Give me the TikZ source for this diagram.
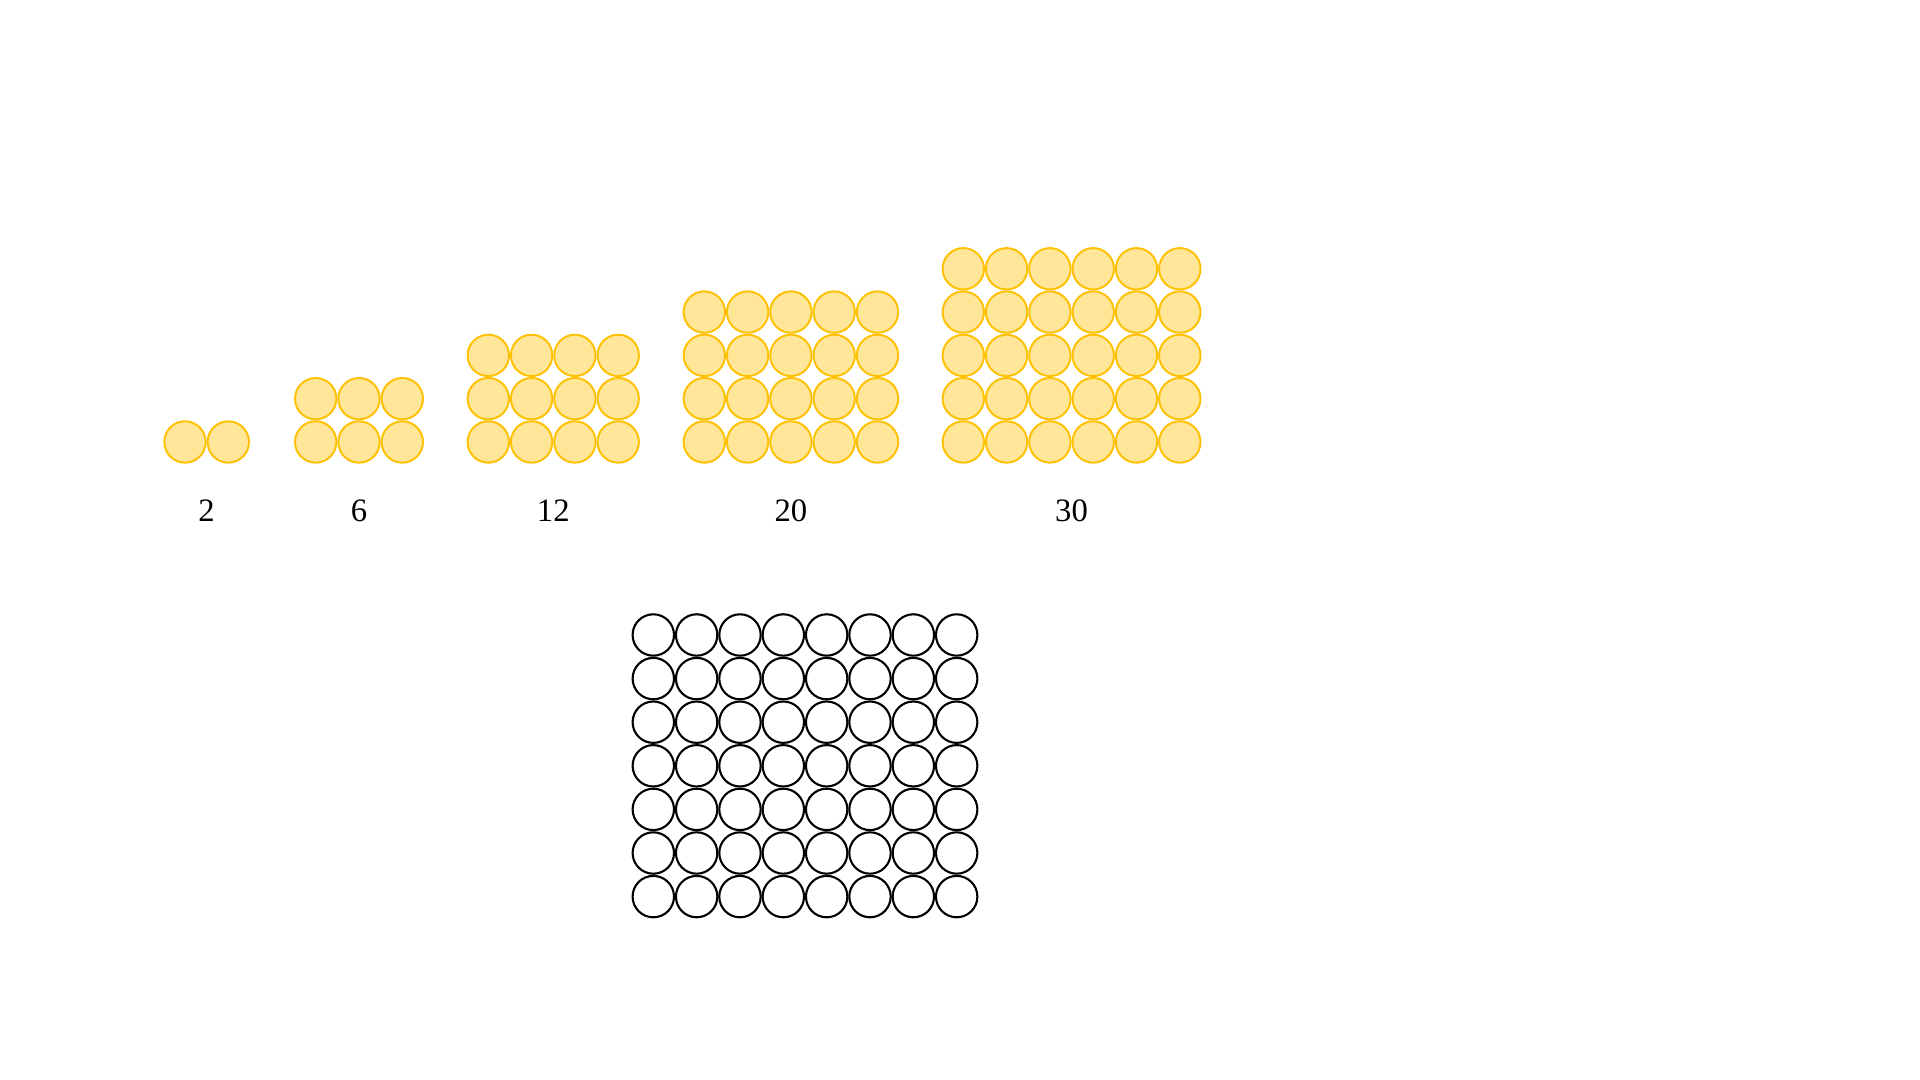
\documentclass[tikz,border=0pt]{standalone}
\usepackage{fontspec}
\setmainfont{Liberation Serif}
\usetikzlibrary{positioning}
\definecolor{coinfill}{HTML}{FFE699}
\definecolor{coinedge}{HTML}{FFC000}

\begin{document}
\begin{tikzpicture}[
    every node/.style={font=\fontsize{9.3}{11}\selectfont},
    coin/.style={circle,draw=coinedge,fill=coinfill,line width=0.55pt,minimum size=4.14mm,inner sep=0pt},
    ring/.style={circle,draw=black,line width=0.6pt,minimum size=4.14mm,inner sep=0pt},
    count/.style={anchor=base,inner sep=0pt}
]
\useasboundingbox (0,0) rectangle (19.2,10.8);

% yellow rectangles of coins: left x / columns / rows / total
\foreach \gx/\nc/\nr/\val in {1.85/2/1/2, 3.157/3/2/6, 4.883/4/3/12, 7.043/5/4/20, 9.633/6/5/30}
{
  \foreach \c in {1,...,\nc}
    \foreach \r in {1,...,\nr}
      \node[coin] (c\val-\r-\c) at ({\gx+(\c-1)*0.433},{6.38+(\r-1)*0.433}) {};
  \node[count] (n\val) at ({\gx+(\nc-1)*0.2165},5.583) {\val};
}

% empty 7 by 8 grid below
\foreach \r in {1,...,7}
  \foreach \c in {1,...,8}
    \node[ring] (g-\r-\c) at ({6.533+(\c-1)*0.4334},{4.45-(\r-1)*0.436}) {};
\end{tikzpicture}
\end{document}
